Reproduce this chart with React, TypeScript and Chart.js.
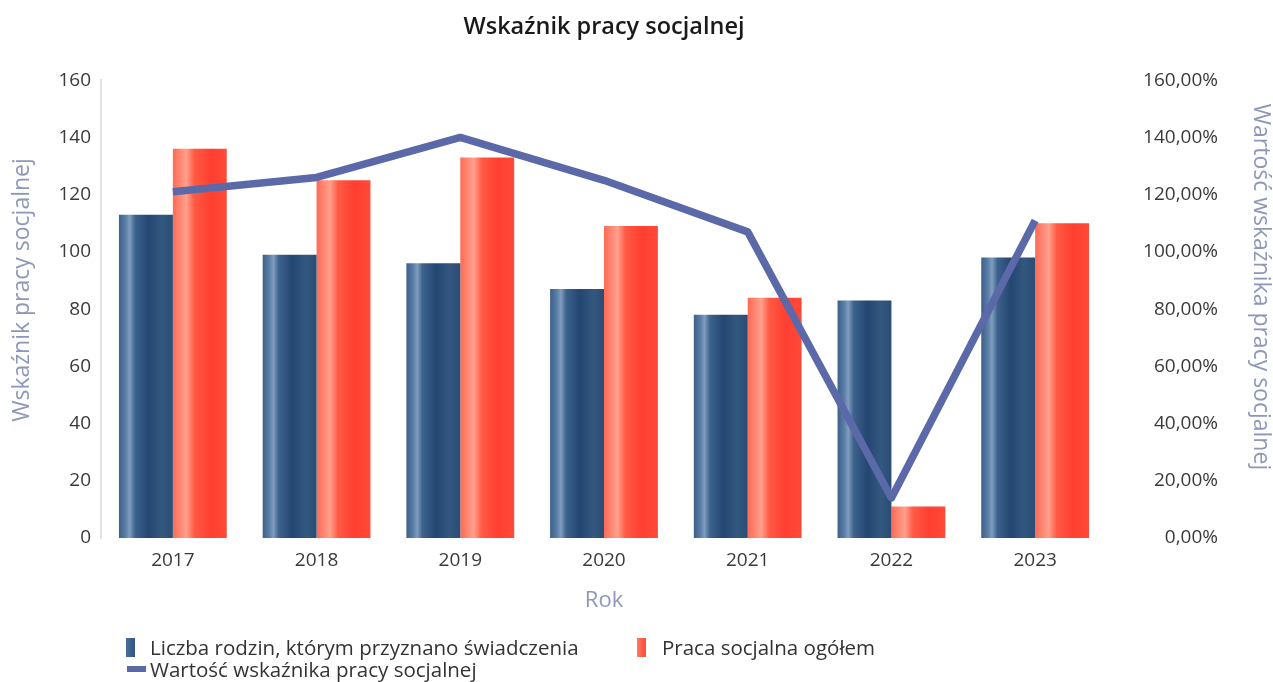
import React, { useEffect, useRef } from "react";
import { Chart, registerables } from "chart.js";

Chart.register(...registerables);

const years = ["2017", "2018", "2019", "2020", "2021", "2022", "2023"];
const rodziny = [113, 99, 96, 87, 78, 83, 98];
const pracaSocjalna = [136, 125, 133, 109, 84, 11, 110];
const wskaznik = [121, 126, 140, 125, 107, 14, 111];

const titleText = "Wskaźnik pracy socjalnej";
const leftAxisTitle = "Wskaźnik pracy socjalnej";
const rightAxisTitle = "Wartość wskaźnika pracy socjalnej";
const xAxisTitle = "Rok";
const legendLabels = [
  "Liczba rodzin, którym przyznano świadczenia",
  "Praca socjalna ogółem",
  "Wartość wskaźnika pracy socjalnej",
];

const FONT = "'Open Sans', 'Noto Sans', sans-serif";
const BLUE = "#2f5580";
const RED = "#ff4a3a";
const LINE = "#5b69a9";
const AXIS_TITLE = "#8d98b8";
const TICK = "#3a3a3a";

const blueStops: [number, string][] = [
  [0, "#3b6089"],
  [0.12, "#5a7da5"],
  [0.2, "#7f9dbf"],
  [0.3, "#3d628c"],
  [0.55, "#244672"],
  [0.8, "#33587f"],
  [1, "#2a4c75"],
];
const redStops: [number, string][] = [
  [0, "#ff6a55"],
  [0.15, "#ff8a75"],
  [0.25, "#ffa08c"],
  [0.4, "#ff5a45"],
  [0.7, "#ff3f30"],
  [1, "#ff4a3a"],
];

const cylinderPlugin = {
  id: "cylinder",
  beforeDatasetsDraw(chart: any) {
    const ctx = chart.ctx;
    chart.data.datasets.forEach((ds: any, i: number) => {
      if (ds.type === "line") return;
      const stops = i === 0 ? blueStops : redStops;
      const meta = chart.getDatasetMeta(i);
      meta.data.forEach((el: any) => {
        const { x, width } = el.getProps(["x", "width"], true);
        const l = x - width / 2;
        const g = ctx.createLinearGradient(l, 0, l + width, 0);
        stops.forEach(([o, c]) => g.addColorStop(o, c));
        el.options = Object.assign({}, el.options, { backgroundColor: g });
      });
    });
  },
};

const sideTitlesPlugin = {
  id: "sideTitles",
  afterDraw(chart: any) {
    const ctx = chart.ctx;
    ctx.save();
    ctx.fillStyle = AXIS_TITLE;
    ctx.font = `23px ${FONT}`;
    ctx.textAlign = "center";
    ctx.textBaseline = "middle";
    ctx.save();
    ctx.translate(22, 290);
    ctx.rotate(-Math.PI / 2);
    ctx.fillText(leftAxisTitle, 0, 0);
    ctx.restore();
    ctx.save();
    ctx.translate(1261, 287);
    ctx.rotate(Math.PI / 2);
    ctx.fillText(rightAxisTitle, 0, 0);
    ctx.restore();
    ctx.restore();
  },
};

export default function App() {
  const ref = useRef<HTMLCanvasElement>(null);

  useEffect(() => {
    const canvas = ref.current!;
    const chart = new Chart(canvas, {
      type: "bar",
      data: {
        labels: years,
        datasets: [
          {
            type: "bar",
            label: legendLabels[0],
            data: rodziny,
            backgroundColor: BLUE,
            yAxisID: "y",
            order: 2,
            categoryPercentage: 0.75,
            barPercentage: 1,
          } as any,
          {
            type: "bar",
            label: legendLabels[1],
            data: pracaSocjalna,
            backgroundColor: RED,
            yAxisID: "y",
            order: 2,
            categoryPercentage: 0.75,
            barPercentage: 1,
          } as any,
          {
            type: "line",
            label: legendLabels[2],
            data: wskaznik,
            borderColor: LINE,
            backgroundColor: LINE,
            borderWidth: 7.5,
            pointRadius: 0,
            tension: 0,
            yAxisID: "y1",
            order: 1,
            borderJoinStyle: "round",
          } as any,
        ],
      },
      options: {
        animation: false,
        responsive: false,
        layout: { padding: { left: 0, right: 55, top: 0, bottom: 62 } },
        plugins: {
          legend: { display: false },
          tooltip: { enabled: false },
          title: {
            display: true,
            text: titleText,
            fullSize: false,
            color: "#1a1a1a",
            font: { family: FONT, size: 23.5, weight: "600", lineHeight: 1.2 },
            padding: { top: 13, bottom: 39 },
          },
        },
        scales: {
          x: {
            grid: { display: false, drawTicks: false },
            border: { display: false },
            ticks: {
              color: TICK,
              font: { family: FONT, size: 19 },
              padding: 11,
            },
            title: {
              display: true,
              text: xAxisTitle,
              color: AXIS_TITLE,
              font: { family: FONT, size: 22, lineHeight: 1.2 },
              padding: { top: 0, bottom: 6 },
            },
            afterFit(scale: any) {
              scale.height = 82;
            },
          },
          y: {
            position: "left",
            min: 0,
            max: 160,
            grid: { display: false, drawTicks: false },
            border: { display: true, color: "#e2e2e2", width: 2 },
            ticks: {
              stepSize: 20,
              color: TICK,
              font: { family: FONT, size: 19 },
              padding: 10,
            },
            afterFit(scale: any) {
              scale.width = 101;
            },
          },
          y1: {
            position: "right",
            min: 0,
            max: 160,
            grid: { display: false, drawTicks: false },
            border: { display: false },
            ticks: {
              stepSize: 20,
              color: TICK,
              font: { family: FONT, size: 19 },
              padding: 31,
              crossAlign: "far",
              callback: (v: any) => Number(v).toFixed(2).replace(".", ",") + "%",
            },
            afterFit(scale: any) {
              scale.width = 111;
            },
          },
        },
      } as any,
      plugins: [cylinderPlugin, sideTitlesPlugin],
    });
    return () => chart.destroy();
  }, []);

  const legendText: React.CSSProperties = {
    position: "absolute",
    fontFamily: FONT,
    fontSize: 20.5,
    color: "#333",
    lineHeight: "24px",
    whiteSpace: "nowrap",
  };

  return (
    <div
      style={{
        position: "fixed",
        left: 0,
        top: 0,
        width: 1273,
        height: 682,
        background: "#fff",
      }}
    >
      <canvas ref={ref} width={1273} height={682} style={{ display: "block" }} />
      <div style={{ position: "absolute", left: 126, top: 638, width: 9, height: 19, background: `linear-gradient(to right, #4a6f98, ${BLUE})` }} />
      <div style={{ ...legendText, left: 150, top: 635 }}>{legendLabels[0]}</div>
      <div style={{ position: "absolute", left: 637, top: 638, width: 9, height: 19, background: `linear-gradient(to right, #ff7a66, ${RED})` }} />
      <div style={{ ...legendText, left: 662, top: 635 }}>{legendLabels[1]}</div>
      <div style={{ position: "absolute", left: 127, top: 666, width: 19, height: 6, background: LINE }} />
      <div style={{ ...legendText, left: 150, top: 657 }}>{legendLabels[2]}</div>
    </div>
  );
}
